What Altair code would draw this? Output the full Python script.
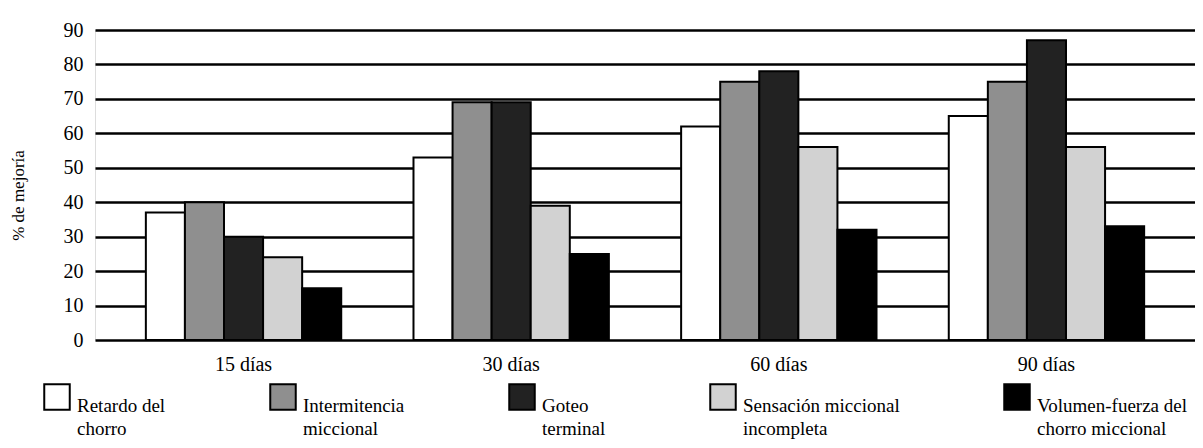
import altair as alt
import pandas as pd

periods = ["15 días", "30 días", "60 días", "90 días"]
series = [
    "Retardo del chorro",
    "Intermitencia miccional",
    "Goteo terminal",
    "Sensación miccional incompleta",
    "Volumen-fuerza del chorro miccional",
]
legend_lines = [
    ["Retardo del", "chorro"],
    ["Intermitencia", "miccional"],
    ["Goteo", "terminal"],
    ["Sensación miccional", "incompleta"],
    ["Volumen-fuerza del", "chorro miccional"],
]
retardo = [37, 53, 62, 65]
intermitencia = [40, 69, 75, 75]
goteo = [30, 69, 78, 87]
sensacion = [24, 39, 56, 56]
volumen = [15, 25, 32, 33]
colors = ["#ffffff", "#8f8f8f", "#222222", "#d2d2d2", "#000000"]
y_ticks = [0, 10, 20, 30, 40, 50, 60, 70, 80, 90]

values = [retardo, intermitencia, goteo, sensacion, volumen]
rows = []
for s, vals in zip(series, values):
    for p, v in zip(periods, vals):
        rows.append({"periodo": p, "serie": s, "valor": v})
df = pd.DataFrame(rows)

label_map = "{" + ", ".join(
    "'" + s + "': [" + ", ".join("'" + l + "'" for l in lines) + "]"
    for s, lines in zip(series, legend_lines)
) + "}"

FONT = "Liberation Serif"

chart = alt.Chart(df).mark_bar(stroke="black", strokeWidth=2).encode(
    x=alt.X(
        "periodo:N",
        sort=periods,
        scale=alt.Scale(paddingInner=0.27, paddingOuter=0.19),
        axis=alt.Axis(
            title=None, labelAngle=0, ticks=False, domain=False, grid=False,
            labelFont=FONT, labelFontSize=20, labelColor="black", labelPadding=14,
        ),
    ),
    xOffset=alt.XOffset("serie:N", sort=series),
    y=alt.Y(
        "valor:Q",
        scale=alt.Scale(domain=[0, 90], nice=False),
        axis=alt.Axis(
            values=y_ticks, grid=True, gridColor="black", gridWidth=2.5,
            domain=False, ticks=False, labelFont=FONT, labelFontSize=20,
            labelColor="black", labelPadding=12,
            title="% de mejoría", titleFont=FONT, titleFontSize=17,
            titleFontWeight="normal", titleColor="black",
            titleX=-77, titleY=165, titleAngle=270, titleBaseline="middle",
            titleAlign="center",
        ),
    ),
    fill=alt.Fill(
        "serie:N",
        sort=series,
        scale=alt.Scale(domain=series, range=colors),
        legend=alt.Legend(
            title=None, orient="none", legendX=-52, legendY=353,
            direction="horizontal", columns=5, gridAlign="each",
            columnPadding=100, symbolType="square", symbolSize=650,
            symbolStrokeColor="black", symbolStrokeWidth=2, symbolOpacity=1,
            labelFont=FONT, labelFontSize=19, labelColor="black",
            labelBaseline="top", labelOffset=6, labelLimit=400,
            labelExpr=label_map + "[datum.label]",
        ),
    ),
).properties(
    width=1100,
    height=310,
    autosize=alt.AutoSizeParams(type="none"),
    padding={"left": 87, "top": 22, "right": 0, "bottom": 100},
).configure_view(strokeWidth=0).configure(
    style={"guide-label": {"lineHeight": 23}}
)

chart.save("out.html", embed_options={"renderer": "svg", "actions": False})
